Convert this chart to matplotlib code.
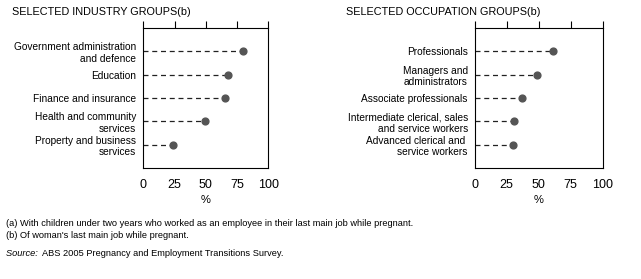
import matplotlib
matplotlib.use("Agg")
import matplotlib.pyplot as plt
from matplotlib import font_manager

# pick a narrow font if one is available
names = {f.name for f in font_manager.fontManager.ttflist}
if "Liberation Sans Narrow" in names:
    plt.rcParams['font.family'] = ['Liberation Sans Narrow', 'DejaVu Sans']
else:
    plt.rcParams['font.family'] = ['Liberation Sans', 'DejaVu Sans']

industry = ["Government administration\nand defence", "Education",
            "Finance and insurance", "Health and community\nservices",
            "Property and business\nservices"]
industry_vals = [80, 68, 65, 49, 24]

occupation = ["Professionals", "Managers and\nadministrators",
              "Associate professionals", "Intermediate clerical, sales\nand service workers",
              "Advanced clerical and \nservice workers"]
occupation_vals = [61, 49, 37, 31, 30]

xticks = [0, 25, 50, 75, 100]

W, H = 641, 279
fig = plt.figure(figsize=(W / 100, H / 100), dpi=100)


def panel(left, right, cats, vals, title, title_x):
    ax = fig.add_axes([left / W, 1 - 168 / H, (right - left) / W, (168 - 28) / H])
    ys = list(range(len(cats), 0, -1))
    for y, v in zip(ys, vals):
        ax.plot([0, v], [y, y], color='#222222', lw=0.9, ls=(0, (4, 3)))
    ax.scatter(vals, ys, s=24, color='#555555', zorder=3)
    ax.set_xlim(0, 100)
    ax.set_ylim(0, len(cats) + 1)
    ax.set_yticks(ys)
    ax.set_yticklabels(cats, fontsize=7.3, linespacing=1.15)
    ax.tick_params(axis='y', length=0, pad=5)
    ax.set_xticks(xticks)
    ax.tick_params(axis='x', which='both', bottom=False, top=True, labelbottom=True,
                   direction='out', length=5, width=0.8, labelsize=9, pad=3)
    for s in ax.spines.values():
        s.set_linewidth(0.8)
    ax.set_xlabel('%', fontsize=8, labelpad=3)
    fig.text(title_x / W, 1 - 12 / H, title, fontsize=7.8, va='center', ha='left')
    return ax


panel(143.3, 268.3, industry, industry_vals, "SELECTED INDUSTRY GROUPS(b)", 12)
panel(474.7, 602.7, occupation, occupation_vals, "SELECTED OCCUPATION GROUPS(b)", 346)

fs = 6.7
fig.text(6 / W, 1 - 224 / H,
         "(a) With children under two years who worked as an employee in their last main job while pregnant.",
         fontsize=fs, va='center')
fig.text(6 / W, 1 - 235 / H, "(b) Of woman's last main job while pregnant.",
         fontsize=fs, va='center')
src = fig.text(6 / W, 1 - 253 / H, "Source: ", fontsize=fs, va='center', style='italic')
fig.canvas.draw()
bb = src.get_window_extent()
fig.text(bb.x1 / W + 2 / W, 1 - 253 / H, "ABS 2005 Pregnancy and Employment Transitions Survey.",
         fontsize=fs, va='center')

fig.savefig("out.png", dpi=100)
